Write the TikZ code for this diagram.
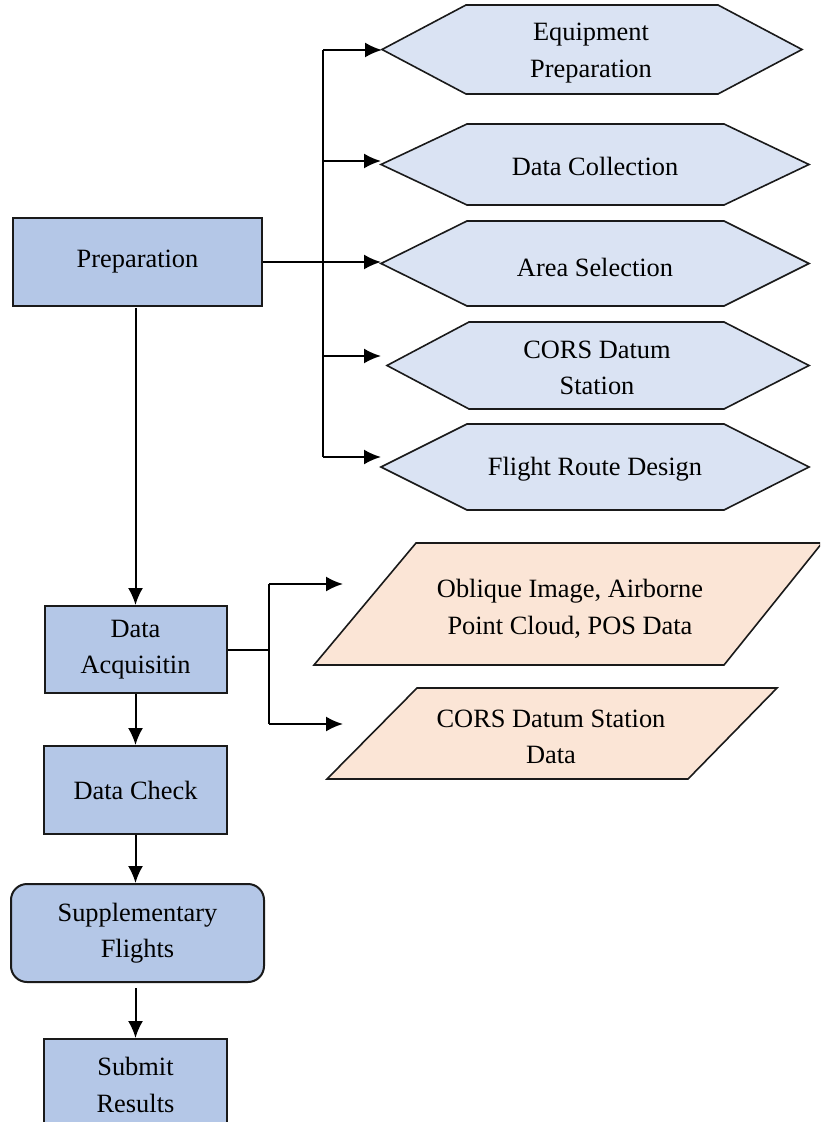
\documentclass[tikz,border=0pt]{standalone}
\usepackage{fontspec}
\setmainfont{Liberation Serif}
\usetikzlibrary{arrows.meta}
\definecolor{boxblue}{HTML}{B4C7E7}
\definecolor{hexblue}{HTML}{DAE3F3}
\definecolor{peach}{HTML}{FBE5D6}
\definecolor{edge}{HTML}{1A1A1A}
\newcommand\myhexa[7]{% name, Lx, TLx, TRx, Rx, ytop, ybot
  \path[draw=edge,line width=0.8pt,fill=hexblue]
    (#2,{(#6+#7)/2}) -- (#3,#6) -- (#4,#6) -- (#5,{(#6+#7)/2}) -- (#4,#7) -- (#3,#7) -- cycle;
  \coordinate (#1-L) at (#2,{(#6+#7)/2});}
\newcommand\mypara[6]{% BLx, TLx, TRx, BRx, ytop, ybot
  \path[draw=edge,line width=0.8pt,fill=peach]
    (#1,#6) -- (#2,#5) -- (#3,#5) -- (#4,#6) -- cycle;}
\tikzset{
  box/.style={draw=edge,line width=1pt,fill=boxblue,inner sep=0pt,align=center},
  lbl/.style={inner sep=0pt,align=center},
  conn/.style={line width=1pt,draw=black},
  arr/.style={conn,-{Latex[length=8.5pt,width=7.5pt]}}
}
\begin{document}
\begin{tikzpicture}[x=0.5pt,y=-0.5pt,font=\fontsize{13.2}{18.2}\selectfont]
\useasboundingbox (0,0) rectangle (820,1122);
\clip (0,0) rectangle (820,1122);
\fill[white] (0,0) rectangle (820,1122);

% left column boxes
\node[box,minimum width=124.5pt,minimum height=44pt] (prep) at (137.5,262) {Preparation};
\node[box,minimum width=91pt,minimum height=43.5pt] (acq) at (135.5,649.5) {Data\\Acquisitin};
\node[box,minimum width=91.5pt,minimum height=44pt] (check) at (135.5,790) {Data Check};
\node[box,rounded corners=8pt,minimum width=126.5pt,minimum height=49pt] (supp) at (137.5,933) {Supplementary\\Flights};
\node[box,minimum width=91.5pt,minimum height=48pt] (submit) at (135.5,1087) {};
\node[lbl] (submittxt) at (135.5,1085) {Submit\\Results};

% hexagons
\myhexa{h1}{382}{466}{718}{802}{5}{94}
\myhexa{h2}{381}{467}{724}{809}{124}{205}
\myhexa{h3}{381}{467}{724}{809}{221}{306}
\myhexa{h4}{387}{469}{724}{809}{322}{409}
\myhexa{h5}{381}{467}{724}{809}{424}{510}
\node[lbl] (t1) at (591,53) {Equipment\\Preparation};
\node[lbl] (t2) at (595,166) {Data Collection};
\node[lbl] (t3) at (595,267) {Area Selection};
\node[lbl] (t4) at (597,368) {CORS Datum\\Station};
\node[lbl] (t5) at (595,469) {Flight Route Design};

% parallelograms
\mypara{314}{416}{822}{724}{543}{665}
\mypara{327}{417}{777}{688}{688}{779}
\node[lbl] (p1) at (570,609) {Oblique Image, Airborne\\Point Cloud, POS Data};
\node[lbl] (p2) at (551,737) {CORS Datum Station\\Data};

% connectors: preparation branch
\coordinate (j0) at (323,262);
\coordinate (tr1) at (323,50);
\coordinate (tr2) at (323,161);
\coordinate (tr4) at (323,356);
\coordinate (tr5) at (323,457);
\coordinate (e1) at (382,50);
\coordinate (e2) at (381,161);
\coordinate (e3) at (381,262);
\coordinate (e4) at (381,356);
\coordinate (e5) at (381,457);
\draw[conn] (prep.east) -- (j0);
\draw[conn] (tr1) -- (tr5);
\draw[arr] (tr1) -- (e1);
\draw[arr] (tr2) -- (e2);
\draw[arr] (j0) -- (e3);
\draw[arr] (tr4) -- (e4);
\draw[arr] (tr5) -- (e5);

% data acquisition branch
\coordinate (k0) at (269,649.5);
\coordinate (k1) at (269,584);
\coordinate (k2) at (269,724);
\coordinate (f1) at (343,584);
\coordinate (f2) at (343,724);
\draw[conn] (acq.east) -- (k0);
\draw[conn] (k1) -- (k2);
\draw[arr] (k1) -- (f1);
\draw[arr] (k2) -- (f2);

% vertical flow
\coordinate (p0) at (135.5,308);
\draw[arr] (p0) -- (acq.north);
\draw[arr] (acq.south) -- (check.north);
\draw[arr] (check.south) -- (supp.north -| check.south);
\coordinate (s0) at (135.5,988);
\draw[arr] (s0) -- (submit.north);
\end{tikzpicture}
\end{document}
